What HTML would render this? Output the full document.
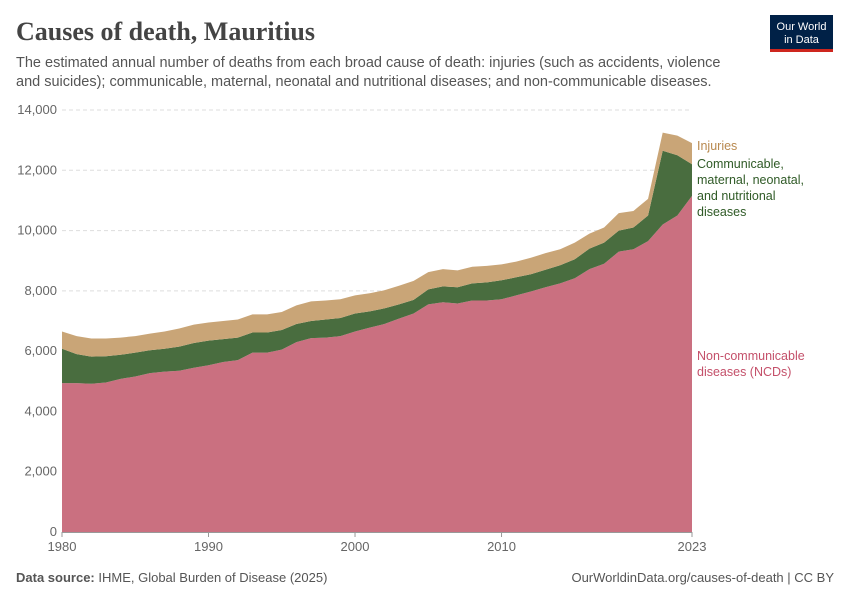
<!DOCTYPE html>
<html><head><meta charset="utf-8"><style>
body{margin:0;background:#fff;width:850px;height:600px;overflow:hidden;font-family:"Liberation Sans",sans-serif}
svg text{font-family:"Liberation Sans",sans-serif}
</style></head><body>
<svg width="850" height="600">
<text x="16" y="40" font-family="Liberation Serif" font-size="26" font-weight="bold" fill="#444" style="font-family:'Liberation Serif',serif">Causes of death, Mauritius</text>
<text x="16" y="67" font-size="14.5" fill="#555">The estimated annual number of deaths from each broad cause of death: injuries (such as accidents, violence</text>
<text x="16" y="86" font-size="14.5" fill="#555">and suicides); communicable, maternal, neonatal and nutritional diseases; and non-communicable diseases.</text>
<g>
<rect x="770" y="15" width="63" height="37" fill="#002147"/>
<rect x="770" y="49" width="63" height="3" fill="#ce261e"/>
<text x="801.5" y="30" font-size="11" fill="#fff" text-anchor="middle">Our World</text>
<text x="801.5" y="43" font-size="11" fill="#fff" text-anchor="middle">in Data</text>
</g>
<g id="grid"></g><g id="areas"></g><g id="axes"></g>
<text x="697" y="150" font-size="12.5" fill="#b8894f">Injuries</text>
<g font-size="12.5" fill="#2f5a26">
<text x="697" y="168">Communicable,</text><text x="697" y="184">maternal, neonatal,</text><text x="697" y="200">and nutritional</text><text x="697" y="216">diseases</text></g>
<g font-size="12.5" fill="#c4506a">
<text x="697" y="360">Non-communicable</text><text x="697" y="376">diseases (NCDs)</text></g>
<text x="16" y="582" font-size="13" fill="#555"><tspan font-weight="bold">Data source:</tspan> IHME, Global Burden of Disease (2025)</text>
<text x="834" y="582" font-size="13" fill="#555" text-anchor="end">OurWorldinData.org/causes-of-death | CC BY</text>
</svg>
<script>
const years=[];for(let y=1980;y<=2023;y++)years.push(y);
const ncd=[4940,4940,4920,4960,5080,5160,5270,5320,5350,5450,5530,5640,5700,5950,5950,6050,6300,6430,6450,6500,6650,6780,6900,7080,7250,7550,7620,7580,7680,7680,7720,7850,7980,8120,8250,8420,8720,8900,9300,9380,9650,10200,10500,11150];
const communicable=[1140,960,900,870,800,790,760,760,800,820,820,760,750,670,670,650,600,570,600,600,600,540,520,470,450,500,530,540,570,600,630,600,570,580,600,630,680,700,700,720,850,2450,2000,1050];
const injuries=[570,600,600,590,570,550,550,570,600,610,600,600,600,600,600,600,620,650,630,620,600,600,600,620,630,570,570,560,550,550,530,520,550,550,530,550,500,500,580,550,550,600,650,700];
const yTicks=[0,2000,4000,6000,8000,10000,12000,14000];
const xTicks=[1980,1990,2000,2010,2023];
const NS="http://www.w3.org/2000/svg";
const x=v=>62+(v-1980)/(2023-1980)*630;
const y=v=>532-v/14000*422;
const mk=(t,a)=>{const e=document.createElementNS(NS,t);for(const k in a)e.setAttribute(k,a[k]);return e;};
const grid=document.getElementById('grid'),areas=document.getElementById('areas'),axes=document.getElementById('axes');
yTicks.forEach(t=>{
 if(t>0){const l=mk('line',{x1:62,x2:692,y1:y(t),y2:y(t),stroke:'#ddd','stroke-dasharray':'4,3'});
 
 grid.appendChild(l);}
 const tx=mk('text',{x:57,y:y(t)+4,'font-size':13,fill:'#666','text-anchor':'end'});tx.textContent=t.toLocaleString('en-US');
 
 axes.appendChild(tx);
});
const series=[[ncd,'#ca7080','area-ncd'],[communicable,'#496d3f','area-communicable'],[injuries,'#c9a577','area-injuries']];
let base=years.map(()=>0);
series.forEach(([vals,col,name])=>{
 const top=base.map((b,i)=>b+vals[i]);
 let d='M'+years.map((yr,i)=>x(yr)+','+y(top[i])).join('L');
 for(let i=years.length-1;i>=0;i--)d+='L'+x(years[i])+','+y(base[i]);
 const p=mk('path',{d:d+'Z',fill:col});
 
 areas.appendChild(p);
 base=top;
});
axes.appendChild(mk('line',{x1:62,x2:692,y1:532.5,y2:532.5,stroke:'#999'}));
xTicks.forEach(t=>{
 axes.appendChild(mk('line',{x1:x(t),x2:x(t),y1:532,y2:537,stroke:'#999'}));
 const tx=mk('text',{x:x(t),y:551,'font-size':13,fill:'#666','text-anchor':'middle'});tx.textContent=t;
 
 axes.appendChild(tx);
});
</script>
</body></html>
